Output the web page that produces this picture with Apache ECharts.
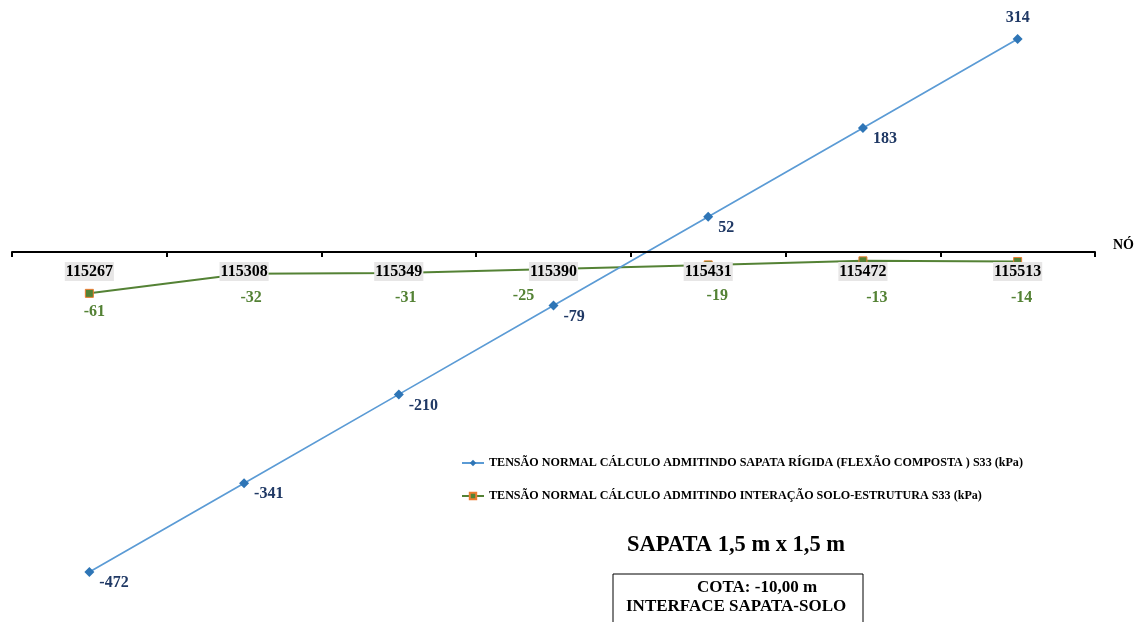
<!DOCTYPE html>
<html>
<head>
<meta charset="utf-8">
<script src="https://cdn.jsdelivr.net/npm/echarts@6/dist/echarts.min.js"></script>
<style>html,body{margin:0;padding:0;background:#fff}#c{width:1134px;height:622px}</style>
</head>
<body>
<div id="c"></div>
<script>
const categories = ['115267','115308','115349','115390','115431','115472','115513'];
const rigidValues = [-472, -341, -210, -79, 52, 183, 314];
const interactionValues = [-61, -32, -31, -25, -19, -13, -14];
const rigidName = 'TENSÃO NORMAL CÁLCULO ADMITINDO SAPATA RÍGIDA (FLEXÃO COMPOSTA ) S33 (kPa)';
const interactionName = 'TENSÃO NORMAL CÁLCULO ADMITINDO INTERAÇÃO SOLO-ESTRUTURA S33 (kPa)';

// label placement tweaks (style only)
const greenLabelOffsets = [[5,1],[7,7],[7,7.5],[-30,9.5],[9,13.5],[14,19.5],[4,19]];

const serif = '"Liberation Serif", "Times New Roman", serif';
const chart = echarts.init(document.getElementById('c'));

const rigidData = rigidValues.map((v, i) => i === rigidValues.length - 1
  ? { value: v, label: { position: 'top', distance: 8, offset: [0, 0] } }
  : v);
const interData = interactionValues.map((v, i) => ({
  value: v,
  label: { offset: greenLabelOffsets[i] }
}));

const yMin = -500, yMax = 350, gridTop = 14.7, gridBottom = 31;
const plotH = 622 - gridTop - gridBottom;
const zeroOffset = -plotH * (0 - yMin) / (yMax - yMin);

chart.setOption({
  animation: false,
  grid: { left: 12, right: 39, top: gridTop, bottom: gridBottom, containLabel: false },
  xAxis: {
    type: 'category',
    data: categories,
    boundaryGap: true,
    z: 5,
    offset: zeroOffset,
    axisLine: { onZero: false, lineStyle: { color: '#000', width: 2 } },
    axisTick: { show: true, length: 5, lineStyle: { color: '#000', width: 2 } },
    axisLabel: {
      margin: 10,
      color: '#000',
      fontFamily: serif,
      fontWeight: 'bold',
      fontSize: 16,
      backgroundColor: '#e7e6e6',
      padding: [2, 1, 1, 1]
    }
  },
  yAxis: {
    type: 'value',
    min: yMin,
    max: yMax,
    show: false,
    splitLine: { show: false }
  },
  legend: {
    orient: 'vertical',
    left: 456,
    top: 452,
    itemGap: 21,
    itemWidth: 22,
    itemHeight: 8,
    textStyle: { fontFamily: serif, fontWeight: 'bold', fontSize: 12.1, color: '#000' },
    data: [rigidName, interactionName]
  },
  series: [
    {
      name: interactionName,
      type: 'line',
      data: interData,
      z: 2,
      symbol: 'rect',
      symbolSize: 8,
      lineStyle: { color: '#548235', width: 2 },
      itemStyle: { color: '#548235', borderColor: '#ed7d31', borderWidth: 1 },
      label: {
        show: true,
        position: 'bottom',
        distance: 5,
        color: '#548235',
        fontFamily: serif,
        fontWeight: 'bold',
        fontSize: 16
      }
    },
    {
      name: rigidName,
      type: 'line',
      data: rigidData,
      z: 3,
      symbol: 'diamond',
      symbolSize: 10,
      lineStyle: { color: '#5b9bd5', width: 1.7 },
      itemStyle: { color: '#2e75b6' },
      label: {
        show: true,
        position: 'right',
        distance: 5,
        offset: [0, 11],
        color: '#1f3864',
        fontFamily: serif,
        fontWeight: 'bold',
        fontSize: 16
      }
    }
  ],
  graphic: [
    { type: 'text', left: 1113, top: 238,
      style: { text: 'NÓ', font: 'bold 14px ' + serif, fill: '#000' } },
    { type: 'text', left: 627, top: 534,
      style: { text: 'SAPATA 1,5 m x 1,5 m', font: 'bold 22.5px ' + serif, fill: '#000' } },
    { type: 'rect', shape: { x: 613, y: 574, width: 250, height: 60 },
      style: { fill: '#fff', stroke: '#000', lineWidth: 1 } },
    { type: 'text', left: 697, top: 579,
      style: { text: 'COTA: -10,00 m', font: 'bold 17px ' + serif, fill: '#000' } },
    { type: 'text', left: 626, top: 598,
      style: { text: 'INTERFACE SAPATA-SOLO', font: 'bold 17px ' + serif, fill: '#000' } }
  ]
});
</script>
</body>
</html>
